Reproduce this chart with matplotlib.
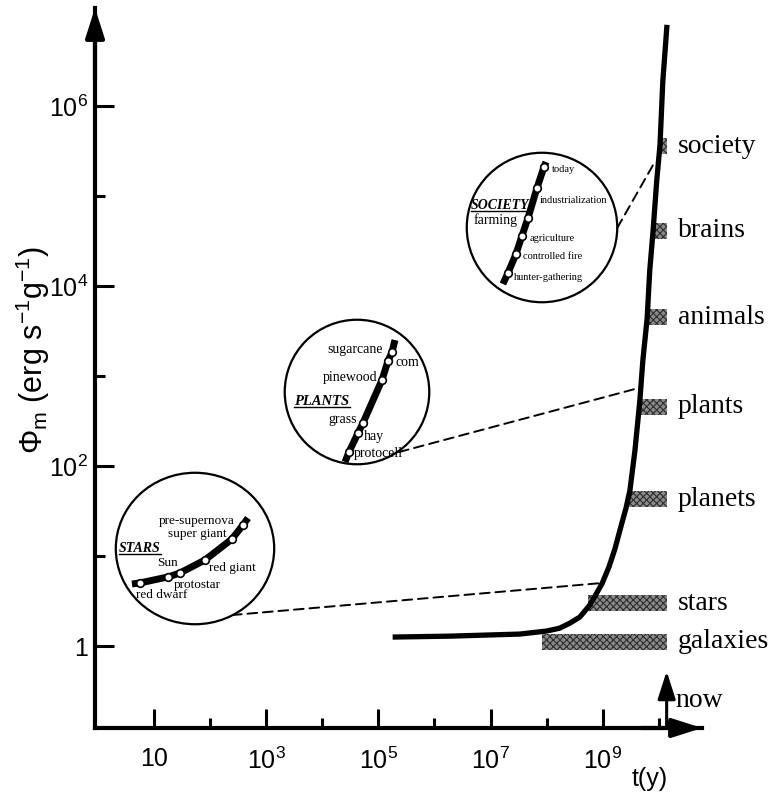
import numpy as np
import matplotlib
matplotlib.use('Agg')
import matplotlib.pyplot as plt
from matplotlib.patches import Ellipse, ConnectionPatch
from matplotlib.lines import Line2D

plt.rcParams['font.family'] = ['Liberation Sans', 'DejaVu Sans']
plt.rcParams['mathtext.fontset'] = 'custom'
plt.rcParams['mathtext.rm'] = 'Liberation Sans'
plt.rcParams['mathtext.default'] = 'regular'
plt.rcParams['hatch.linewidth'] = 0.8

SERIF = ['Liberation Serif', 'DejaVu Serif']
W, H = 772, 798

# ── main curve: energy rate density vs. time ───────────────────────────────
curve_t   = [1.8e5, 1.9e6, 3.3e7, 1.0e8, 1.7e8, 2.6e8, 3.9e8, 5.9e8, 7.3e8,
             9.8e8, 1.29e9, 1.65e9, 2.1e9, 2.6e9, 3.06e9, 3.76e9, 4.6e9, 5.2e9,
             6.2e9, 6.9e9, 7.9e9, 9.2e9, 1.05e10, 1.18e10, 1.4e10]
curve_phi = [1.26, 1.29, 1.36, 1.47, 1.58, 1.8, 2.1, 2.86, 3.6,
             5.0, 7.55, 12, 21, 34, 54, 150, 541, 1.5e3,
             4.4e3, 1.5e4, 4.1e4, 1.5e5, 3.7e5, 1.9e6, 8.0e6]

# ── emergence bars ─────────────────────────────────────────────────────────
systems      = ['galaxies', 'stars', 'planets', 'plants', 'animals', 'brains', 'society']
system_start = [8.3e7, 5.5e8, 3.0e9, 4.6e9, 6.5e9, 7.8e9, 1.05e10]
system_phi   = [1.12, 3.0, 43, 457, 4.5e3, 4.1e4, 3.6e5]
now_t        = 1.38e10

# connector targets on the main curve (stars, plants, society)
link_t   = [8.9e8, 4.3e9, 8.5e9]
link_phi = [5.0, 735, 2.4e5]

# ── inset sketches (positions within each circle, 0..1) ────────────────────
stars_x   = [0.106, 0.156, 0.331, 0.406, 0.5625, 0.731, 0.80, 0.831]
stars_y   = [0.268, 0.275, 0.314, 0.340, 0.425, 0.562, 0.654, 0.699]
stars_lbl = ['red dwarf', 'Sun', 'protostar', 'red giant', 'super giant', 'pre-supernova']

plants_x   = [0.418, 0.445, 0.507, 0.541, 0.671, 0.712, 0.740, 0.760]
plants_y   = [0.021, 0.089, 0.219, 0.288, 0.582, 0.712, 0.774, 0.856]
plants_lbl = ['protocell', 'hay', 'grass', 'pinewood', 'com', 'sugarcane']

society_x   = [0.243, 0.276, 0.329, 0.368, 0.408, 0.467, 0.513, 0.526]
society_y   = [0.126, 0.199, 0.325, 0.444, 0.563, 0.762, 0.901, 0.934]
society_lbl = ['hunter-gathering', 'controlled fire', 'agriculture', 'farming',
               'industrialization', 'today']


def px_box(x0, y0, x1, y1):
    return [x0 / W, 1 - y1 / H, (x1 - x0) / W, (y1 - y0) / H]


fig = plt.figure(figsize=(W / 100, H / 100), dpi=100)
ax = fig.add_axes(px_box(95, 8, 702, 728))
ax.set_xscale('log')
ax.set_yscale('log')
ax.set_xlim(10 ** -0.05, 10 ** 10.77)
ax.set_ylim(10 ** -0.91, 10 ** 7.09)
ax.patch.set_alpha(0)

for s in ['top', 'right']:
    ax.spines[s].set_visible(False)
for s in ['left', 'bottom']:
    ax.spines[s].set_linewidth(3)

ax.set_xticks([10, 1e3, 1e5, 1e7, 1e9])
ax.set_xticklabels(['10', '$10^3$', '$10^5$', '$10^7$', '$10^9$'])
ax.set_xticks([1e2, 1e4, 1e6, 1e8, 1e10], minor=True)
ax.set_yticks([1, 1e2, 1e4, 1e6])
ax.set_yticklabels(['1', '$10^2$', '$10^4$', '$10^6$'])
ax.set_yticks([10, 1e3, 1e5], minor=True)
ax.yaxis.set_minor_formatter(plt.NullFormatter())
ax.xaxis.set_minor_formatter(plt.NullFormatter())
ax.tick_params(which='major', direction='in', length=14, width=2.2, labelsize=18)
ax.tick_params(which='minor', direction='in', length=7, width=2.2)
ax.tick_params(axis='y', which='major', pad=5)
ax.tick_params(axis='x', which='major', pad=14)

# axis arrows
arrow_kw = dict(arrowstyle='-|>,head_length=1.0,head_width=0.32',
                color='black', lw=3, mutation_scale=18, shrinkA=0, shrinkB=0)
ax.annotate('', xy=(1.0, 0), xytext=(0.9, 0), xycoords='axes fraction',
            arrowprops=arrow_kw, annotation_clip=False)
ax.annotate('', xy=(0, 1.0), xytext=(0, 0.9), xycoords='axes fraction',
            arrowprops=arrow_kw, annotation_clip=False)
ax.annotate('', xy=(now_t, 0.527), xytext=(now_t, ax.get_ylim()[0]),
            arrowprops=dict(arrowstyle='-|>,head_length=1.0,head_width=0.32',
                            color='black', lw=2.2, mutation_scale=17,
                            shrinkA=0, shrinkB=0))
ax.text(now_t * 1.45, 0.25, 'now', family=SERIF, fontsize=20, va='center', ha='left')
ax.text(6.9e9, 10 ** -1.478, 't(y)', fontsize=18, ha='center', va='center',
        clip_on=False)
fig.text(33 / W, 1 - 350 / H, r'Φ$_m$ (erg s$^{-1}$g$^{-1}$)', rotation=90,
         fontsize=22, ha='center', va='center')

# emergence bars
bar_half = 0.09
for name, t0, phi in zip(systems, system_start, system_phi):
    lo = phi * 10 ** -bar_half
    hi = phi * 10 ** bar_half
    ax.barh(lo, now_t - t0, left=t0, height=hi - lo, align='edge',
            color='#8a8a8a', edgecolor='#2e2e2e', hatch='xxxxx', lw=0, zorder=2)
    ax.text(2.2e10, phi, name, family=SERIF, fontsize=20, va='center', ha='left')

ax.plot(curve_t, curve_phi, color='black', lw=3.8, solid_capstyle='butt',
        solid_joinstyle='round', zorder=4)


def make_inset(box, xs, ys):
    a = fig.add_axes(px_box(*box))
    a.set_xlim(0, 1)
    a.set_ylim(0, 1)
    a.axis('off')
    a.add_patch(Ellipse((0.5, 0.5), 0.99, 0.99, facecolor='white',
                        edgecolor='black', lw=1.6, zorder=1, clip_on=False))
    a.plot(xs, ys, color='black', lw=5, solid_capstyle='butt', zorder=2)
    a.plot(xs[1:-1], ys[1:-1], 'o', ms=5.5, mfc='white', mec='black',
           mew=1.2, zorder=3)
    return a


def underline(txt):
    fig.canvas.draw()
    bb = txt.get_window_extent(fig.canvas.get_renderer())
    fig.add_artist(Line2D([bb.x0 / W, bb.x1 / W],
                          [(bb.y0 + 1) / H, (bb.y0 + 1) / H],
                          color='black', lw=1.0))


# STARS inset
ins_s = make_inset((115, 472, 275, 625), stars_x, stars_y)
pos = [(0.294, 0.196, 'center'), (0.325, 0.405, 'center'), (0.512, 0.261, 'center'),
       (0.731, 0.373, 'center'), (0.512, 0.592, 'center'), (0.512, 0.678, 'center')]
for lbl, (x, y, ha) in zip(stars_lbl, pos):
    ins_s.text(x, y, lbl, family=SERIF, fontsize=9.5, ha=ha, va='center', zorder=4)
t = ins_s.text(0.156, 0.503, 'STARS', family=SERIF, fontsize=10, style='italic',
               weight='bold', ha='center', va='center', zorder=4)
underline(t)

# PLANTS inset
ins_p = make_inset((284, 319, 430, 465), plants_x, plants_y)
pos = [(0.479, 0.082, 'left'), (0.548, 0.192, 'left'), (0.5, 0.315, 'right'),
       (0.637, 0.596, 'right'), (0.767, 0.699, 'left'), (0.678, 0.788, 'right')]
for lbl, (x, y, ha) in zip(plants_lbl, pos):
    ins_p.text(x, y, lbl, family=SERIF, fontsize=10, ha=ha, va='center', zorder=4)
t = ins_p.text(0.26, 0.438, 'PLANTS', family=SERIF, fontsize=10.5, style='italic',
               weight='bold', ha='center', va='center', zorder=4)
underline(t)

# SOCIETY inset
ins_c = make_inset((466, 152, 618, 303), society_x, society_y)
pos = [(0.316, 0.172, 'left'), (0.375, 0.311, 'left'), (0.421, 0.430, 'left'),
       (0.197, 0.550, 'center'), (0.487, 0.682, 'left'), (0.566, 0.881, 'left')]
for lbl, (x, y, ha) in zip(society_lbl, pos):
    ins_c.text(x, y, lbl, family=SERIF, fontsize=7.5 if lbl != 'farming' else 10,
               ha=ha, va='center', zorder=4)
t = ins_c.text(0.224, 0.649, 'SOCIETY', family=SERIF, fontsize=10, style='italic',
               weight='bold', ha='center', va='center', zorder=4)
underline(t)

# dashed connectors from circles to the main curve
starts = [(ins_s, 0.731, 0.065), (ins_p, 0.788, 0.089), (ins_c, 0.995, 0.497)]
for (a, fx, fy), lt, lp in zip(starts, link_t, link_phi):
    con = ConnectionPatch(xyA=(fx, fy), coordsA=a.transData,
                          xyB=(lt, lp), coordsB=ax.transData,
                          linestyle=(0, (5, 3)), lw=1.4, color='black', zorder=0)
    fig.add_artist(con)

fig.savefig('out.png', dpi=100)
